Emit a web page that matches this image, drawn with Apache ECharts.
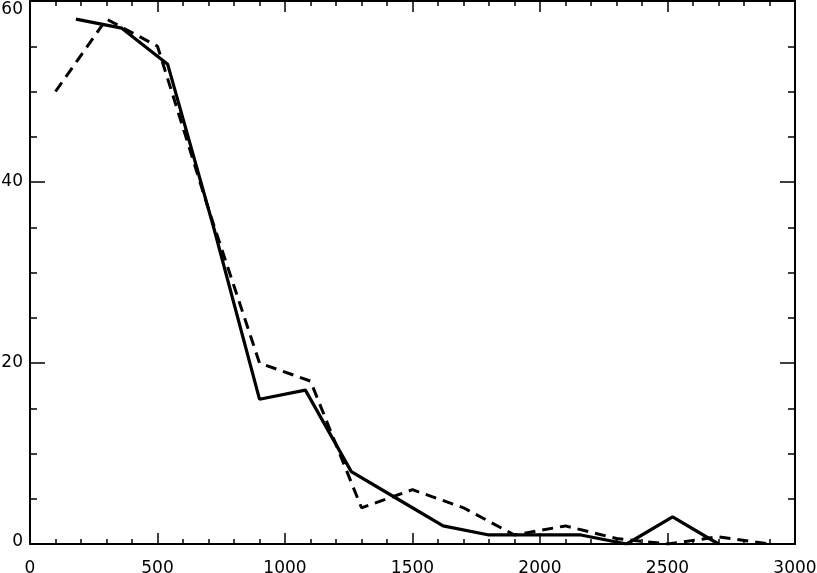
<!DOCTYPE html>
<html>
<head>
<meta charset="utf-8">
<script src="https://cdn.jsdelivr.net/npm/echarts@6/dist/echarts.min.js"></script>
<style>
  html, body { margin: 0; padding: 0; background: #fff; }
  #main { width: 817px; height: 573px; }
</style>
</head>
<body>
<div id="main"></div>
<script>
// 数据
var solidX = [180, 360, 540, 720, 900, 1080, 1260, 1440, 1620, 1800, 1980, 2160, 2340, 2520, 2700];
var solidY = [58, 57, 53, 35, 16, 17, 8, 5, 2, 1, 1, 1, 0, 3, 0];
var dashX = [100, 300, 500, 700, 900, 1100, 1300, 1500, 1700, 1900, 2100, 2300, 2500, 2700, 2900];
var dashY = [50, 58, 55, 37, 20, 18, 4, 6, 4, 1, 2, 0.6, 0, 0.8, 0];

function pairs(xs, ys) {
    var out = [];
    for (var i = 0; i < xs.length; i++) out.push([xs[i], ys[i]]);
    return out;
}

var font = '"DejaVu Sans", sans-serif';
var fw = 'normal';
var axisLine = { show: true, onZero: false, lineStyle: { color: '#000', width: 2 } };

function xAx(pos, labels) {
    return {
        type: 'value', position: pos, min: 0, max: 3000, interval: 500,
        axisLine: axisLine,
        axisTick: { show: true, inside: true, length: 11, lineStyle: { color: '#000', width: 1.5 } },
        minorTick: { show: true, splitNumber: 5, length: 5, lineStyle: { color: '#000', width: 1.5 } },
        splitLine: { show: false },
        axisLabel: {
            show: labels, color: '#000', fontSize: 17, fontFamily: font, fontWeight: fw, margin: 16,
            formatter: function (v) { return String(v); }
        }
    };
}
function yAx(pos, labels) {
    return {
        type: 'value', position: pos, min: 0, max: 60, interval: 20,
        axisLine: axisLine,
        axisTick: { show: true, inside: true, length: 15, lineStyle: { color: '#000', width: 1.5 } },
        minorTick: { show: true, splitNumber: 4, length: 7, lineStyle: { color: '#000', width: 1.5 } },
        splitLine: { show: false },
        axisLabel: {
            show: labels, color: '#000', fontSize: 17, fontFamily: font, fontWeight: fw, margin: 7,
            formatter: function (v) {
                if (v === 0) return '{lo|0}';
                if (v === 60) return '{hi|60}';
                return String(v);
            },
            rich: {
                lo: { fontSize: 17, fontFamily: font, fontWeight: fw, color: '#000', padding: [0, 0, 4, 0] },
                hi: { fontSize: 17, fontFamily: font, fontWeight: fw, color: '#000', padding: [17, 0, 0, 0] }
            }
        }
    };
}

var option = {
    animation: false,
    backgroundColor: '#fff',
    grid: { left: 30, right: 22, top: 1, bottom: 29, containLabel: false, outerBoundsMode: 'none' },
    xAxis: [xAx('bottom', true), xAx('top', false)],
    yAxis: [yAx('left', true), yAx('right', false)],
    series: [
        {
            type: 'line', data: pairs(dashX, dashY), symbol: 'none',
            lineStyle: { color: '#000', width: 3, type: [11, 7] }
        },
        {
            type: 'line', data: pairs(solidX, solidY), symbol: 'none',
            lineStyle: { color: '#000', width: 3.2 }
        }
    ]
};

var chart = echarts.init(document.getElementById('main'));
chart.setOption(option);
</script>
</body>
</html>
